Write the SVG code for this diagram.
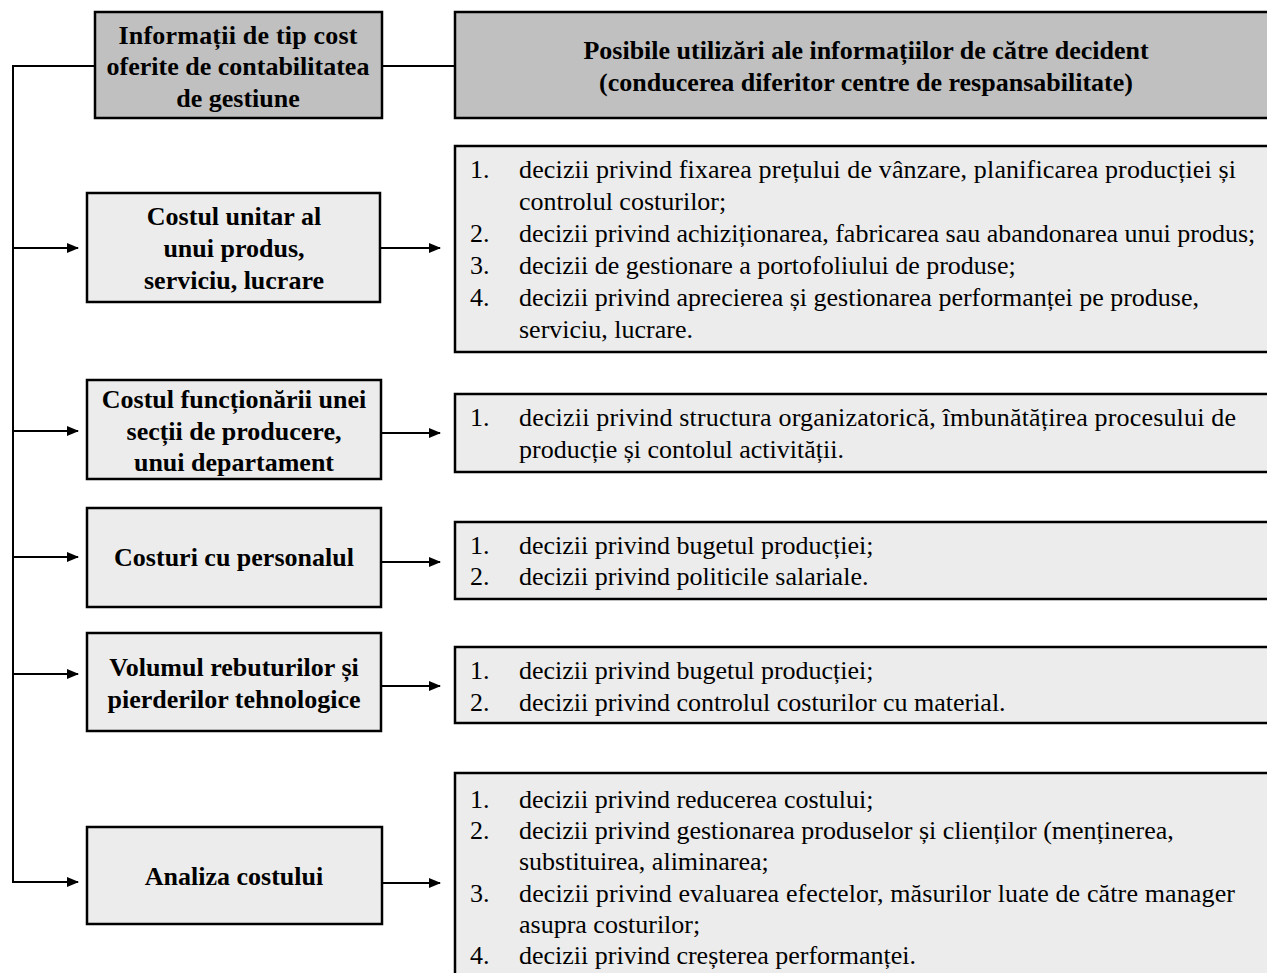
<svg xmlns="http://www.w3.org/2000/svg" width="1267" height="973" viewBox="0 0 1267 973">
<defs>
<marker id="arr" markerWidth="12" markerHeight="10" refX="11" refY="5" orient="auto" markerUnits="userSpaceOnUse">
<path d="M0,0 L12,5 L0,10 Z" fill="#000"/>
</marker>
<style>
.hdr{fill:#c0c0c0;stroke:#000;stroke-width:2.5}
.box{fill:#ececec;stroke:#000;stroke-width:2.5}
.b{font-family:"Liberation Serif","Times New Roman",serif;font-weight:bold;font-size:26px;fill:#000;text-anchor:middle}
.t{font-family:"Liberation Serif","Times New Roman",serif;font-size:26px;fill:#000}
.ln{fill:none;stroke:#000;stroke-width:2}
</style>
</defs>
<rect width="1267" height="973" fill="#fff"/>

<g id="connectors">
<path class="ln" d="M95,66 H13 V882 H78" marker-end="url(#arr)"/>
<path class="ln" d="M382,66 H455"/>
<path class="ln" d="M13,248 H78" marker-end="url(#arr)"/>
<path class="ln" d="M13,431 H78" marker-end="url(#arr)"/>
<path class="ln" d="M13,557 H78" marker-end="url(#arr)"/>
<path class="ln" d="M13,674 H78" marker-end="url(#arr)"/>
<path class="ln" d="M380,248 H440" marker-end="url(#arr)"/>
<path class="ln" d="M381,433 H440" marker-end="url(#arr)"/>
<path class="ln" d="M381,562 H440" marker-end="url(#arr)"/>
<path class="ln" d="M381,686 H440" marker-end="url(#arr)"/>
<path class="ln" d="M382,883 H440" marker-end="url(#arr)"/>
</g>

<g id="hdr-left">
<rect class="hdr" x="95" y="12" width="287" height="106"/>
<text class="b" x="238" y="44" textLength="239" lengthAdjust="spacing">Informații de tip cost</text>
<text class="b" x="238" y="75">oferite de contabilitatea</text>
<text class="b" x="238" y="107">de gestiune</text>
</g>

<g id="hdr-right">
<rect class="hdr" x="455" y="12" width="830" height="106"/>
<text class="b" x="866" y="59">Posibile utilizări ale informațiilor de către decident</text>
<text class="b" x="866" y="91">(conducerea diferitor centre de respansabilitate)</text>
</g>

<g id="n1">
<rect class="box" x="87" y="193" width="293" height="109"/>
<text class="b" x="234" y="225">Costul unitar al</text>
<text class="b" x="234" y="257">unui produs,</text>
<text class="b" x="234" y="289">serviciu, lucrare</text>
</g>
<g id="n2">
<rect class="box" x="87" y="380" width="294" height="99"/>
<text class="b" x="234" y="408">Costul funcționării unei</text>
<text class="b" x="234" y="440">secții de producere,</text>
<text class="b" x="234" y="471">unui departament</text>
</g>
<g id="n3">
<rect class="box" x="87" y="508" width="294" height="99"/>
<text class="b" x="234" y="566">Costuri cu personalul</text>
</g>
<g id="n4">
<rect class="box" x="87" y="633" width="294" height="98"/>
<text class="b" x="234" y="676">Volumul rebuturilor și</text>
<text class="b" x="234" y="708">pierderilor tehnologice</text>
</g>
<g id="n5">
<rect class="box" x="87" y="827" width="295" height="97"/>
<text class="b" x="234" y="885">Analiza costului</text>
</g>

<g id="r1">
<rect class="box" x="455" y="146" width="830" height="206"/>
<text class="t" x="470" y="178">1.</text><text class="t" x="519" y="178" textLength="717" lengthAdjust="spacing">decizii privind fixarea prețului de vânzare, planificarea producției și</text>
<text class="t" x="519" y="210">controlul costurilor;</text>
<text class="t" x="470" y="242">2.</text><text class="t" x="519" y="242">decizii privind achiziționarea, fabricarea sau abandonarea unui produs;</text>
<text class="t" x="470" y="274">3.</text><text class="t" x="519" y="274">decizii de gestionare a portofoliului de produse;</text>
<text class="t" x="470" y="306">4.</text><text class="t" x="519" y="306">decizii privind aprecierea și gestionarea performanței pe produse,</text>
<text class="t" x="519" y="338">serviciu, lucrare.</text>
</g>
<g id="r2">
<rect class="box" x="455" y="394" width="830" height="78"/>
<text class="t" x="470" y="426">1.</text><text class="t" x="519" y="426" textLength="717" lengthAdjust="spacing">decizii privind structura organizatorică, îmbunătățirea procesului de</text>
<text class="t" x="519" y="458">producție și contolul activității.</text>
</g>
<g id="r3">
<rect class="box" x="455" y="522" width="830" height="77"/>
<text class="t" x="470" y="554">1.</text><text class="t" x="519" y="554">decizii privind bugetul producției;</text>
<text class="t" x="470" y="585">2.</text><text class="t" x="519" y="585">decizii privind politicile salariale.</text>
</g>
<g id="r4">
<rect class="box" x="455" y="647" width="830" height="76"/>
<text class="t" x="470" y="679">1.</text><text class="t" x="519" y="679">decizii privind bugetul producției;</text>
<text class="t" x="470" y="711">2.</text><text class="t" x="519" y="711">decizii privind controlul costurilor cu material.</text>
</g>
<g id="r5">
<rect class="box" x="455" y="773" width="830" height="220"/>
<text class="t" x="470" y="808">1.</text><text class="t" x="519" y="808">decizii privind reducerea costului;</text>
<text class="t" x="470" y="839">2.</text><text class="t" x="519" y="839">decizii privind gestionarea produselor și clienților (menținerea,</text>
<text class="t" x="519" y="870">substituirea, aliminarea;</text>
<text class="t" x="470" y="902">3.</text><text class="t" x="519" y="902" textLength="716" lengthAdjust="spacing">decizii privind evaluarea efectelor, măsurilor luate de către manager</text>
<text class="t" x="519" y="933">asupra costurilor;</text>
<text class="t" x="470" y="964">4.</text><text class="t" x="519" y="964">decizii privind creșterea performanței.</text>
</g>
</svg>
